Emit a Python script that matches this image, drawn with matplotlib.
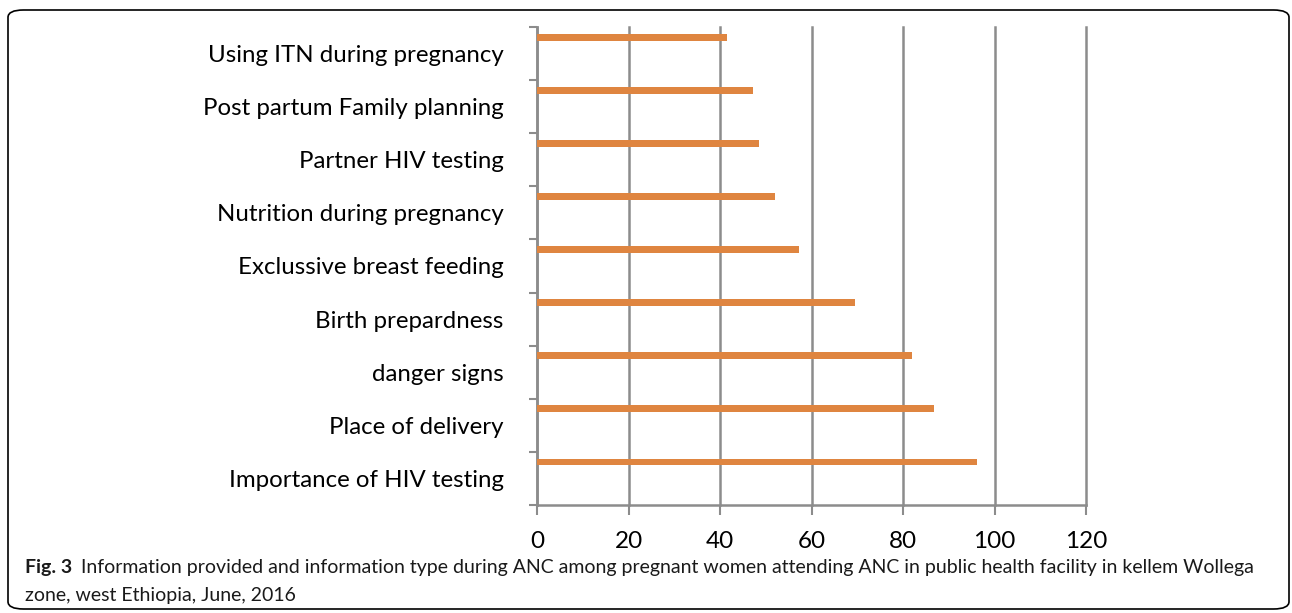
import matplotlib
matplotlib.use("Agg")
import matplotlib.pyplot as plt
from matplotlib.patches import FancyBboxPatch
from matplotlib.ticker import FixedLocator, NullFormatter
import numpy as np

categories = [
    "Importance of HIV testing",
    "Place of delivery",
    "danger signs",
    "Birth prepardness",
    "Exclussive breast feeding",
    "Nutrition during pregnancy",
    "Partner HIV testing",
    "Post partum Family planning",
    "Using ITN during pregnancy",
]
values = [96.1, 86.8, 82.0, 69.5, 57.2, 52.0, 48.5, 47.2, 41.5]
xticks = [0, 20, 40, 60, 80, 100, 120]

W, H = 1292, 613
fig = plt.figure(figsize=(W / 100, H / 100), dpi=100)
fig.patch.set_facecolor("white")

left, right, top, bottom = 537, 1086, 27, 505
ax = fig.add_axes([left / W, 1 - bottom / H, (right - left) / W, (bottom - top) / H])

pos = np.arange(len(categories))
ax.barh(pos + 0.31, values, height=0.13, color="#DF8540", zorder=3)

ax.set_xlim(0, 120)
ax.set_ylim(-0.5, len(categories) - 0.5)
ax.set_xticks(xticks)
ax.set_xticklabels([str(t) for t in xticks], fontsize=17.5, family="Lato")
ax.set_yticks(pos)
ax.set_yticklabels(categories, fontsize=17.3, family="Lato")
ax.yaxis.set_minor_locator(FixedLocator(np.arange(-0.5, len(categories), 1.0)))
ax.yaxis.set_minor_formatter(NullFormatter())
ax.tick_params(axis="y", which="major", length=0, pad=24, colors="black")
ax.tick_params(axis="y", which="minor", length=6, width=1.5, color="#8c8c8c")
ax.tick_params(axis="x", which="major", length=7, width=1.5, color="#8c8c8c", pad=12, labelcolor="black")

ax.grid(axis="x", color="#8c8c8c", linewidth=1.8, zorder=1)
for gl in ax.get_xgridlines():
    gl.set_clip_on(False)
for s in ["top", "right"]:
    ax.spines[s].set_visible(False)
for s in ["left", "bottom"]:
    ax.spines[s].set_color("#8c8c8c")
    ax.spines[s].set_linewidth(1.8)

# border box
box = FancyBboxPatch((8 / W, 4 / H), (1289 - 8) / W, (603 - 4) / H,
                     boxstyle="round,pad=0,rounding_size=0.012",
                     transform=fig.transFigure, fill=False, edgecolor="black",
                     linewidth=1.2)
fig.patches.append(box)

cap_font = ["Lato", "DejaVu Sans"]
cap_size = 13.2
t1 = fig.text(25 / W, 1 - 568 / H, "Fig. 3", fontsize=cap_size + 0.8, fontweight="bold",
              family=cap_font, va="center", ha="left", color="#1a1a1a")
fig.canvas.draw()
r = fig.canvas.get_renderer()
bb = t1.get_window_extent(r)
x2 = (bb.x1 + 9) / W
t2 = fig.text(x2, 1 - 568 / H,
              "Information provided and information type during ANC among pregnant women attending ANC in public health facility in kellem Wollega",
              fontsize=cap_size, family=cap_font, va="center", ha="left", color="#1a1a1a")
bb2 = t2.get_window_extent(r)
target = 1262 - (bb.x1 + 9)
t2.set_fontsize(cap_size * target / bb2.width)
fig.text(25 / W, 1 - 595 / H, "zone, west Ethiopia, June, 2016",
         fontsize=cap_size * target / bb2.width, family=cap_font, va="center", ha="left", color="#1a1a1a")

fig.savefig("out.png", dpi=100)
